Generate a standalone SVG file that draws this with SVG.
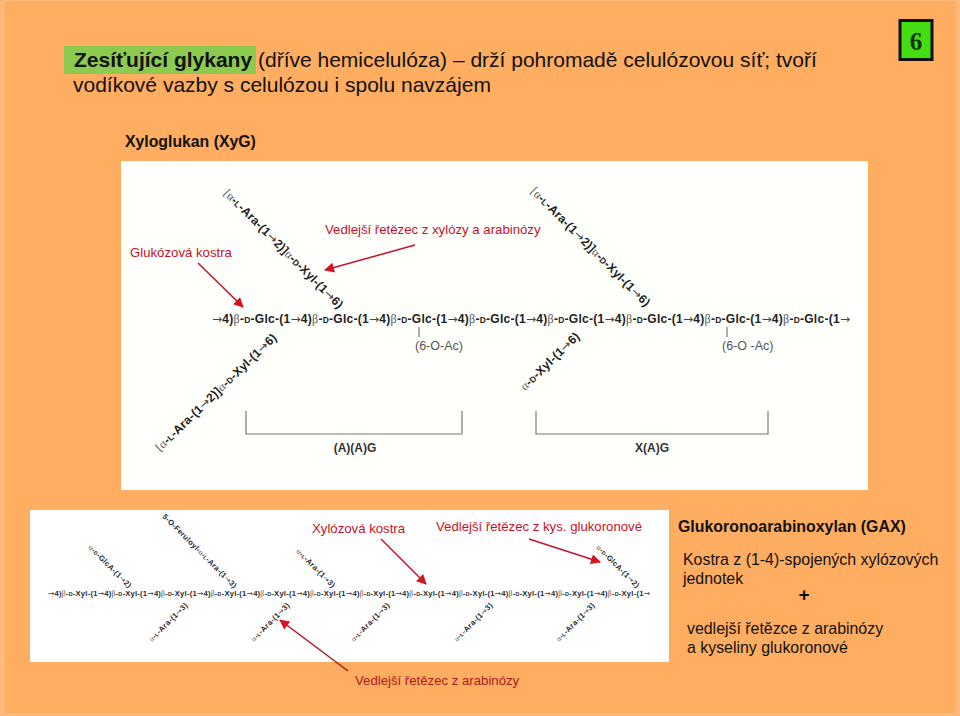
<svg xmlns="http://www.w3.org/2000/svg" width="960" height="716" viewBox="0 0 960 716">
<style>
text{font-family:"Liberation Sans",Arial,sans-serif}
.t{font-size:21px;fill:#111}
.b{font-weight:bold}
.red{font-size:13.200px;fill:#C4122A}
.side{font-size:15.900px;fill:#111}
.ch{font-size:12px;font-weight:bold;fill:#222}
.sm{font-size:7.600px;font-weight:bold;fill:#2a2a2a}
.r{font-weight:normal;fill:#555;font-family:"Liberation Serif",serif}
.w{font-weight:normal;fill:#444;font-family:"DejaVu Sans",sans-serif}
.d{font-size:70%}
.gr{font-size:12.500px;fill:#555}
.ln{stroke:#777;stroke-width:1.200;fill:none}
.ar{stroke:#C4122A;stroke-width:1.500;fill:none;marker-end:url(#a)}
</style>
<defs><marker id="a" viewBox="0 0 10 10" refX="9" refY="5" markerWidth="12" markerHeight="10" markerUnits="userSpaceOnUse" orient="auto"><path d="M0 0L10 5L0 10z" fill="#D8101F"/></marker></defs>
<rect width="960" height="716" fill="#FDB97C"/>
<rect x="5" y="1" width="951" height="712" fill="#FFAD60"/>
<g id="title">
<rect x="64" y="46" width="192" height="28" fill="#8CCB50"/>
<text class="t" x="74" y="67"><tspan class="b">Zesíťující glykany</tspan> (dříve hemicelulóza) – drží pohromadě celulózovou síť; tvoří</text>
<text class="t" x="73" y="92">vodíkové vazby s celulózou i spolu navzájem</text>
</g>
<g id="page-number"><rect x="900" y="20.500" width="32" height="39" fill="#44DD11" stroke="#111" stroke-width="3"/><text x="916" y="50" text-anchor="middle" style="font-family:'Liberation Serif',serif;font-size:25px;font-weight:bold" fill="#113311">6</text></g>
<g id="xyg-heading"><text class="b" x="125" y="147" font-size="15.800" fill="#111">Xyloglukan (XyG)</text></g>
<g id="xyg-panel">
<rect x="121" y="161" width="747" height="329" fill="#FFFFFC"/>
<text class="ch" x="212" y="323" textLength="638" lengthAdjust="spacing"><tspan class="w">→</tspan>4)<tspan class="r">β</tspan>-<tspan class="d">D</tspan>-Glc-(1<tspan class="w">→</tspan>4)<tspan class="r">β</tspan>-<tspan class="d">D</tspan>-Glc-(1<tspan class="w">→</tspan>4)<tspan class="r">β</tspan>-<tspan class="d">D</tspan>-Glc-(1<tspan class="w">→</tspan>4)<tspan class="r">β</tspan>-<tspan class="d">D</tspan>-Glc-(1<tspan class="w">→</tspan>4)<tspan class="r">β</tspan>-<tspan class="d">D</tspan>-Glc-(1<tspan class="w">→</tspan>4)<tspan class="r">β</tspan>-<tspan class="d">D</tspan>-Glc-(1<tspan class="w">→</tspan>4)<tspan class="r">β</tspan>-<tspan class="d">D</tspan>-Glc-(1<tspan class="w">→</tspan>4)<tspan class="r">β</tspan>-<tspan class="d">D</tspan>-Glc-(1<tspan class="w">→</tspan></text>
<text class="ch" transform="translate(223,194) rotate(45)" textLength="163" lengthAdjust="spacing"><tspan class="r">[α</tspan>-<tspan class="d">L</tspan>-Ara-(1<tspan class="w">→</tspan>2)]<tspan class="r">α</tspan>-<tspan class="d">D</tspan>-Xyl-(1<tspan class="w">→</tspan>6)</text>
<text class="ch" transform="translate(530,192) rotate(45)" textLength="163" lengthAdjust="spacing"><tspan class="r">[α</tspan>-<tspan class="d">L</tspan>-Ara-(1<tspan class="w">→</tspan>2)]<tspan class="r">α</tspan>-<tspan class="d">D</tspan>-Xyl-(1<tspan class="w">→</tspan>6)</text>
<text class="ch" transform="translate(160,452) rotate(-44)" textLength="163" lengthAdjust="spacing"><tspan class="r">[α</tspan>-<tspan class="d">L</tspan>-Ara-(1<tspan class="w">→</tspan>2)]<tspan class="r">α</tspan>-<tspan class="d">D</tspan>-Xyl-(1<tspan class="w">→</tspan>6)</text>
<text class="ch" transform="translate(525,391) rotate(-44)" textLength="77" lengthAdjust="spacing"><tspan class="r">α</tspan>-<tspan class="d">D</tspan>-Xyl-(1<tspan class="w">→</tspan>6)</text>
<path class="ln" d="M419 327V337M727 327V337M246 411V434H462V411M536 411V434H768V411"/>
<text class="gr" x="415" y="350">(6-O-Ac)</text>
<text class="gr" x="722" y="350">(6-O -Ac)</text>
<text class="b" x="355" y="452" text-anchor="middle" font-size="12" fill="#333">(A)(A)G</text>
<text class="b" x="652" y="452" text-anchor="middle" font-size="12" fill="#333">X(A)G</text>
<text class="red" x="130" y="257">Glukózová kostra</text>
<text class="red" x="325" y="234">Vedlejší řetězec z xylózy a arabinózy</text>
</g>
<g id="gax-panel">
<rect x="30" y="510" width="639" height="152" fill="#FFFFFF"/>
<text class="sm" x="48" y="596" textLength="602" lengthAdjust="spacing"><tspan class="w">→</tspan>4)<tspan class="r">β</tspan>-<tspan class="d">D</tspan>-Xyl-(1<tspan class="w">→</tspan>4)<tspan class="r">β</tspan>-<tspan class="d">D</tspan>-Xyl-(1<tspan class="w">→</tspan>4)<tspan class="r">β</tspan>-<tspan class="d">D</tspan>-Xyl-(1<tspan class="w">→</tspan>4)<tspan class="r">β</tspan>-<tspan class="d">D</tspan>-Xyl-(1<tspan class="w">→</tspan>4)<tspan class="r">β</tspan>-<tspan class="d">D</tspan>-Xyl-(1<tspan class="w">→</tspan>4)<tspan class="r">β</tspan>-<tspan class="d">D</tspan>-Xyl-(1<tspan class="w">→</tspan>4)<tspan class="r">β</tspan>-<tspan class="d">D</tspan>-Xyl-(1<tspan class="w">→</tspan>4)<tspan class="r">β</tspan>-<tspan class="d">D</tspan>-Xyl-(1<tspan class="w">→</tspan>4)<tspan class="r">β</tspan>-<tspan class="d">D</tspan>-Xyl-(1<tspan class="w">→</tspan>4)<tspan class="r">β</tspan>-<tspan class="d">D</tspan>-Xyl-(1<tspan class="w">→</tspan>4)<tspan class="r">β</tspan>-<tspan class="d">D</tspan>-Xyl-(1<tspan class="w">→</tspan>4)<tspan class="r">β</tspan>-<tspan class="d">D</tspan>-Xyl-(1<tspan class="w">→</tspan></text>
<text class="sm" transform="translate(88,548) rotate(45)" textLength="57" lengthAdjust="spacing"><tspan class="r">α</tspan>-<tspan class="d">D</tspan>-GlcA-(1<tspan class="w">→</tspan>2)</text>
<text class="sm" transform="translate(596,548) rotate(45)" textLength="57" lengthAdjust="spacing"><tspan class="r">α</tspan>-<tspan class="d">D</tspan>-GlcA-(1<tspan class="w">→</tspan>2)</text>
<text class="sm" transform="translate(162,517) rotate(45)" textLength="101" lengthAdjust="spacing">5-O-Feruloyl-<tspan class="r">α</tspan>-<tspan class="d">L</tspan>-Ara-(1<tspan class="w">→</tspan>3)</text>
<text class="sm" transform="translate(296,552) rotate(45)" textLength="51" lengthAdjust="spacing"><tspan class="r">α</tspan>-<tspan class="d">L</tspan>-Ara-(1<tspan class="w">→</tspan>3)</text>
<text class="sm" transform="translate(152,642) rotate(-45)" textLength="51" lengthAdjust="spacing"><tspan class="r">α</tspan>-<tspan class="d">L</tspan>-Ara-(1<tspan class="w">→</tspan>3)</text>
<text class="sm" transform="translate(254,642) rotate(-45)" textLength="51" lengthAdjust="spacing"><tspan class="r">α</tspan>-<tspan class="d">L</tspan>-Ara-(1<tspan class="w">→</tspan>3)</text>
<text class="sm" transform="translate(354,642) rotate(-45)" textLength="51" lengthAdjust="spacing"><tspan class="r">α</tspan>-<tspan class="d">L</tspan>-Ara-(1<tspan class="w">→</tspan>3)</text>
<text class="sm" transform="translate(457,642) rotate(-45)" textLength="51" lengthAdjust="spacing"><tspan class="r">α</tspan>-<tspan class="d">L</tspan>-Ara-(1<tspan class="w">→</tspan>3)</text>
<text class="sm" transform="translate(559,642) rotate(-45)" textLength="51" lengthAdjust="spacing"><tspan class="r">α</tspan>-<tspan class="d">L</tspan>-Ara-(1<tspan class="w">→</tspan>3)</text>
<text class="red" x="312" y="533">Xylózová kostra</text>
<text class="red" x="436" y="531">Vedlejší řetězec z kys. glukoronové</text>
</g>
<g id="label-arabinose"><text class="red" x="355" y="685" style="fill:#A81A20">Vedlejší řetězec z arabinózy</text></g>
<g id="gax-description">
<text class="b" x="678" y="532" font-size="15.900" fill="#111">Glukoronoarabinoxylan (GAX)</text>
<text class="side" x="683" y="565">Kostra z (1-4)-spojených xylózových</text>
<text class="side" x="683" y="584">jednotek</text>
<text class="b" x="804" y="601" text-anchor="middle" font-size="19" fill="#111">+</text>
<text class="side" x="687" y="634">vedlejší řetězce z arabinózy</text>
<text class="side" x="687" y="653">a kyseliny glukoronové</text>
</g>
<g id="connectors">
<path class="ar" d="M198 263L243 307"/>
<path class="ar" d="M415 245L325 270"/>
<path class="ar" d="M381 539L426 584"/>
<path class="ar" d="M529 539L600 562"/>
<path class="ar" style="stroke:#A81A20" d="M348 671L280 620"/>
</g>
</svg>
